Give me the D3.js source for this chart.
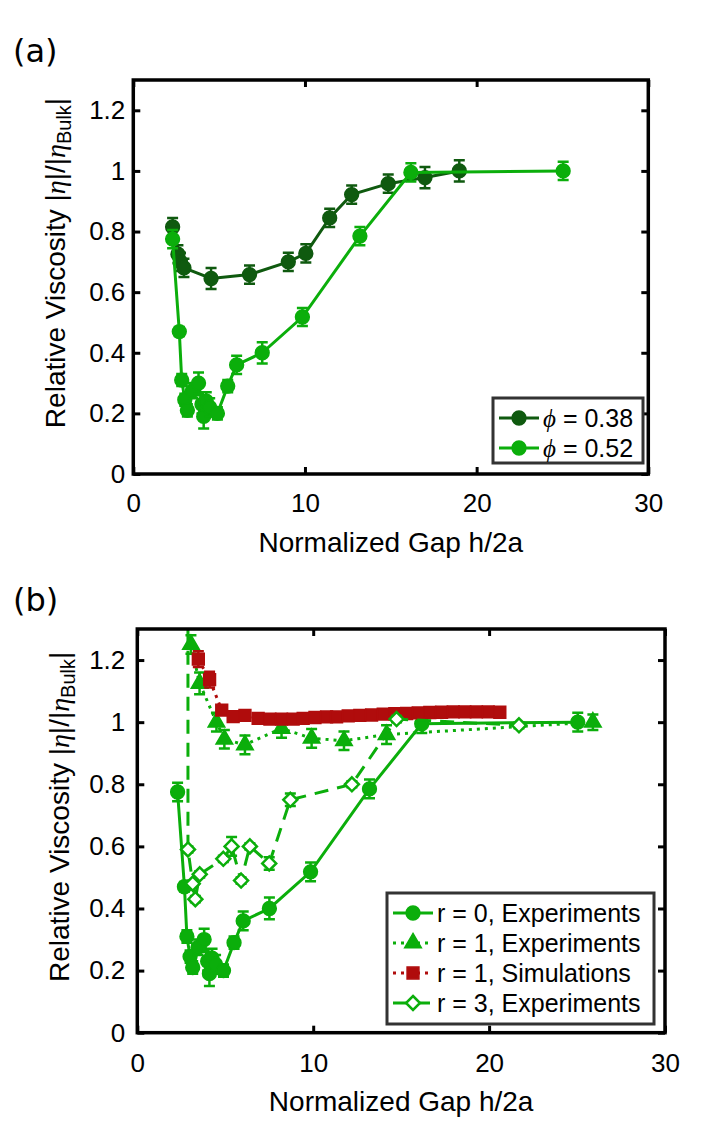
<!DOCTYPE html>
<html>
<head>
<meta charset="utf-8">
<script src="https://cdn.jsdelivr.net/npm/d3@7"></script>
<style>
body { margin: 0; background: #fff; }
text { font-family: "Liberation Sans", Arial, sans-serif; fill: #000; }
.greek { font-family: "Liberation Serif", serif; font-style: italic; }
</style>
</head>
<body>
<script>
// ---- data, panel (a) ----
const gapPhi038 = [2.29, 2.6, 2.75, 2.95, 4.53, 6.77, 9.03, 10.05, 11.44, 12.72, 14.85, 16.99, 18.99]
const visPhi038 = [0.815, 0.725, 0.70, 0.68, 0.645, 0.658, 0.70, 0.728, 0.845, 0.922, 0.958, 0.978, 1.0]
const errPhi038 = [0.03, 0.03, 0.03, 0.03, 0.035, 0.03, 0.03, 0.03, 0.03, 0.03, 0.03, 0.035, 0.035]

const gapPhi052 = [2.29, 2.68, 2.82, 3.0, 3.15, 3.45, 3.8, 4.0, 4.1, 4.25, 4.45, 4.9, 5.5, 6.02, 7.51, 9.85, 13.2, 16.17, 25.04]
const visPhi052 = [0.775, 0.47, 0.31, 0.245, 0.21, 0.275, 0.30, 0.23, 0.19, 0.24, 0.22, 0.20, 0.29, 0.36, 0.40, 0.518, 0.785, 0.995, 1.0]
const errPhi052 = [0.03, 0.015, 0.02, 0.02, 0.02, 0.025, 0.035, 0.03, 0.04, 0.03, 0.03, 0.02, 0.02, 0.03, 0.035, 0.03, 0.03, 0.03, 0.03]

// ---- data, panel (b) ----
// r = 0 experiments are the phi = 0.52 points of panel (a)
const gapR0Exp = gapPhi052
const visR0Exp = visPhi052
const errR0Exp = errPhi052

const gapR1Exp = [3.05, 3.54, 4.5, 4.95, 6.12, 8.2, 9.91, 11.75, 14.17, 25.9]
const visR1Exp = [1.25, 1.125, 1.0, 0.945, 0.927, 0.98, 0.948, 0.94, 0.96, 1.0]
const errR1Exp = [0.03, 0.035, 0.03, 0.03, 0.03, 0.03, 0.03, 0.03, 0.03, 0.025]

const gapR1Sim = [3.47, 4.11, 4.8, 5.45, 6.12, 6.87, 7.54, 8.2, 8.86, 9.43, 10.1, 10.76, 11.33, 11.99, 12.65,
    13.32, 13.98, 14.64, 15.31, 15.97, 16.63, 17.3, 17.96, 18.62, 19.28, 19.95, 20.61]
const visR1Sim = [1.203, 1.137, 1.039, 1.018, 1.022, 1.012, 1.01, 1.01, 1.01, 1.012, 1.015, 1.017, 1.017, 1.02, 1.022,
    1.023, 1.026, 1.027, 1.028, 1.03, 1.031, 1.032, 1.033, 1.033, 1.033, 1.033, 1.032]
const errR1Sim = [0.025, 0.025, 0.01, 0.008, 0.008, 0.008, 0.008, 0.008, 0.008, 0.008, 0.008, 0.008, 0.008, 0.008, 0.008,
    0.008, 0.008, 0.008, 0.008, 0.008, 0.008, 0.008, 0.008, 0.008, 0.008, 0.008, 0.008]

const gapR3Exp = [2.88, 2.88, 3.15, 3.3, 3.55, 4.89, 5.36, 5.9, 6.4, 7.5, 8.7, 12.2, 14.74, 21.7]
const visR3Exp = [1.6, 0.59, 0.48, 0.43, 0.51, 0.56, 0.60, 0.49, 0.60, 0.545, 0.75, 0.80, 1.01, 0.99]
const errR3Exp = [0, 0.01, 0.01, 0.01, 0.01, 0.01, 0.03, 0.01, 0.01, 0.02, 0.02, 0.01, 0.01, 0.01]

const xTicks = [0, 10, 20, 30]
const yTicks = [0, 0.2, 0.4, 0.6, 0.8, 1, 1.2]

const dark = '#0f5a0f'
const green = '#0bae0b'
const red = '#b00c0c'

const svg = d3.select('body').append('svg')
    .attr('width', 713)
    .attr('height', 1141)

const shapes = {
    circle: d3.symbol(d3.symbolCircle, 150)(),
    triangle: d3.symbol(d3.symbolTriangle, 120)(),
    square: d3.symbol(d3.symbolSquare, 140)(),
    diamond: 'M0,-7L7,0L0,7L-7,0Z',
}

function drawMarker(sel, s) {
    sel.append('path')
        .attr('d', shapes[s.shape])
        .style('fill', s.hollow ? 'white' : s.color)
        .style('stroke', s.color)
        .style('stroke-width', s.hollow ? 2.5 : 1.5)
}

function panel(cfg) {
    const x = d3.scaleLinear().domain([0, 30]).range([cfg.left, cfg.right])
    const y = d3.scaleLinear().domain([0, 1.3]).range([cfg.bottom, cfg.top])
    const g = svg.append('g')

    g.append('clipPath').attr('id', 'clip-' + cfg.name)
        .append('rect')
            .attr('x', cfg.left).attr('y', cfg.top)
            .attr('width', cfg.right - cfg.left).attr('height', cfg.bottom - cfg.top)
    const plot = g.append('g').attr('clip-path', `url(#clip-${cfg.name})`)

    const line = d3.line().x(d => x(d.x)).y(d => y(d.y))

    cfg.series.forEach(s => {
        const pts = s.x.map((v, i) => ({ x: v, y: s.y[i], e: s.err[i] }))
        plot.append('path')
            .datum(pts)
            .style('fill', 'none')
            .style('stroke', s.color)
            .style('stroke-width', 3)
            .style('stroke-dasharray', s.dash)
            .attr('d', line)

        const pg = plot.selectAll(null).data(pts).enter().append('g')
            .attr('transform', d => `translate(${x(d.x)},${y(d.y)})`)
        pg.filter(d => d.e > 0).append('path')
            .attr('d', d => {
                const h = y(0) - y(d.e)
                return `M0,${-h}V${h}M-5.5,${-h}H5.5M-5.5,${h}H5.5`
            })
            .style('fill', 'none')
            .style('stroke', s.color)
            .style('stroke-width', 2.5)
        pg.each(function () { drawMarker(d3.select(this), s) })
    })

    // axes box with inward ticks on all sides
    g.append('g')
        .attr('transform', `translate(0,${cfg.bottom})`)
        .call(d3.axisBottom(x).tickValues(xTicks).tickSizeInner(-7).tickSizeOuter(0).tickPadding(cfg.xPad))
    g.append('g')
        .attr('transform', `translate(0,${cfg.top})`)
        .call(d3.axisTop(x).tickValues(xTicks).tickSizeInner(-7).tickSizeOuter(0).tickFormat(''))
    g.append('g')
        .attr('transform', `translate(${cfg.left},0)`)
        .call(d3.axisLeft(y).tickValues(yTicks).tickSizeInner(-7).tickSizeOuter(0).tickPadding(cfg.yPad).tickFormat(d3.format('~g')))
    g.append('g')
        .attr('transform', `translate(${cfg.right},0)`)
        .call(d3.axisRight(y).tickValues(yTicks).tickSizeInner(-7).tickSizeOuter(0).tickFormat(''))
    g.selectAll('.tick line').style('stroke', '#000').style('stroke-width', 3)
    g.selectAll('.domain').remove()
    g.selectAll('.tick text').style('font-size', '26px').style('font-family', '"Liberation Sans", Arial, sans-serif')
    g.append('rect')
        .attr('x', cfg.left).attr('y', cfg.top)
        .attr('width', cfg.right - cfg.left).attr('height', cfg.bottom - cfg.top)
        .style('fill', 'none').style('stroke', '#000').style('stroke-width', 3.5)

    // axis titles
    g.append('text')
        .attr('x', (cfg.left + cfg.right) / 2)
        .attr('y', cfg.xTitleY)
        .attr('text-anchor', 'middle')
        .style('font-size', '28px')
        .text('Normalized Gap h/2a')

    const yl = g.append('text')
        .attr('transform', `translate(${cfg.left - 68},${(cfg.top + cfg.bottom) / 2 - 14}) rotate(-90)`)
        .attr('text-anchor', 'middle')
        .style('font-size', '28px')
    yl.append('tspan').text('Relative Viscosity |')
    yl.append('tspan').attr('class', 'greek').text('η')
    yl.append('tspan').text('|/|')
    yl.append('tspan').attr('class', 'greek').text('η')
    yl.append('tspan').attr('dy', 6).style('font-size', '20px').text('Bulk')
    yl.append('tspan').attr('dy', -6).text('|')

    g.append('text')
        .attr('x', 13)
        .attr('y', cfg.top - 18)
        .style('font-size', '32px')
        .style('font-family', '"DejaVu Sans", sans-serif')
        .text(cfg.name === 'a' ? '(a)' : '(b)')

    // legend
    const L = cfg.legend
    g.append('rect')
        .attr('x', L.x).attr('y', L.y)
        .attr('width', L.w).attr('height', L.h)
        .style('fill', 'white').style('stroke', '#333').style('stroke-width', 3)
    cfg.series.forEach((s, i) => {
        const cy = L.y + 20 + i * 30
        const row = g.append('g')
        row.append('line')
            .attr('x1', L.x + 6).attr('x2', L.x + 46)
            .attr('y1', cy).attr('y2', cy)
            .style('stroke', s.color).style('stroke-width', 3)
            .style('stroke-dasharray', s.dash)
        const m = row.append('g').attr('transform', `translate(${L.x + 26},${cy})`)
        drawMarker(m, s)
        const t = row.append('text')
            .attr('x', L.x + 50).attr('y', cy + 9)
            .style('font-size', '25px')
        if (s.phi) {
            t.append('tspan').attr('class', 'greek').text('ϕ')
            t.append('tspan').text(' = ' + s.phi)
        } else {
            t.text(s.label)
        }
    })
}

panel({
    name: 'a',
    left: 133.3, right: 648.3, top: 80, bottom: 474,
    xPad: 19.5, yPad: 8, xTitleY: 552,
    legend: { x: 493, y: 398, w: 150, h: 65 },
    series: [
        { x: gapPhi038, y: visPhi038, err: errPhi038, color: dark, shape: 'circle', dash: null, phi: '0.38' },
        { x: gapPhi052, y: visPhi052, err: errPhi052, color: green, shape: 'circle', dash: null, phi: '0.52' },
    ],
})

panel({
    name: 'b',
    left: 137.3, right: 665, top: 629, bottom: 1032.7,
    xPad: 21, yPad: 12, xTitleY: 1111,
    legend: { x: 387, y: 893, w: 267, h: 131 },
    series: [
        { x: gapR0Exp, y: visR0Exp, err: errR0Exp, color: green, shape: 'circle', dash: null, label: 'r = 0, Experiments' },
        { x: gapR1Exp, y: visR1Exp, err: errR1Exp, color: green, shape: 'triangle', dash: '3,5', label: 'r = 1, Experiments' },
        { x: gapR1Sim, y: visR1Sim, err: errR1Sim, color: red, shape: 'square', dash: '3,5', label: 'r = 1, Simulations' },
        { x: gapR3Exp, y: visR3Exp, err: errR3Exp, color: green, shape: 'diamond', hollow: true, dash: '14,9', label: 'r = 3, Experiments' },
    ],
})
</script>
</body>
</html>
